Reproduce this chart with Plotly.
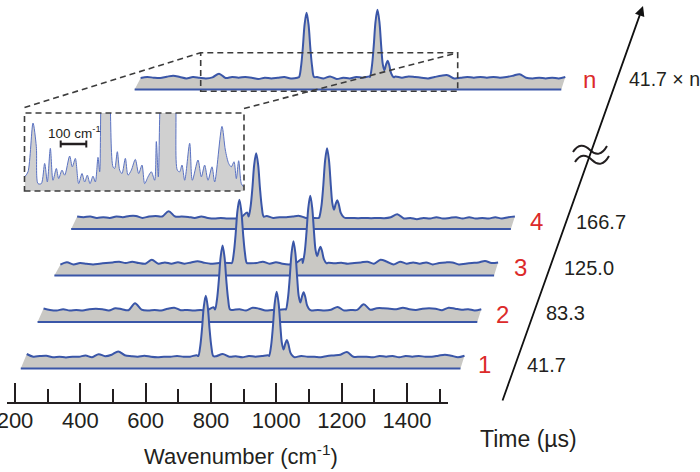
import plotly.graph_objects as go

# ---------------- data ----------------
WAVENUMBER = [236, 256, 276, 296, 316, 336, 356, 376, 396, 416, 436, 456, 476, 496, 516, 536, 556,
              576, 596, 616, 636, 656, 676, 696, 716, 736, 756, 776, 796, 816, 836, 856, 876, 896,
              916, 936, 956, 976, 996, 1016, 1036, 1056, 1076, 1096, 1116, 1136, 1156, 1176, 1196,
              1216, 1236, 1256, 1276, 1296, 1316, 1336, 1356, 1376, 1396, 1416, 1436, 1456, 1476,
              1496, 1516, 1536, 1556, 1576]

# baseline signal of each spectrum (None = inside a band / no data)
NOISE_1 = [2.7, 0, 0.7, 1.0, -0.5, 0, -0.7, 0, 0, 1.2,
           -0.5, 2.5, 0.5, 2, 5.3, 1.5, 0.5, 0, 1, 0,
           -0.5, 0, 0, 0.7, 0, 0, 1.5, None, None, 0.5,
           2.7, 0, 0.5, -0.5, 0.7, 0, 0.7, 1.3, None, None,
           None, -0.5, 0.7, 0, 0, -0.5, 0.7, 1.3, 2, 4.7,
           0, 0, 0, -0.5, 0.7, 0, 0.7, -0.5, 0.7, 0,
           0.7, 0, 0, 1, 2, 1, -0.5, 1]
NOISE_2 = [1.7, 0.3, -0.3, 1, -0.3, 0.3, -0.3, 1, 1.5, 1,
           -0.3, 2, 1, 0, 7, 0.5, -0.3, 0.3, -0.3, 1.5,
           2.5, 0, 0.3, -0.3, 0.3, -0.3, 3, None, None, 0.3,
           1, -0.3, 2.5, 1.5, -0.3, 0.3, 0.3, 1, None, None,
           None, -0.3, 0.3, -0.3, 0.5, 3.3, -0.3, 0.3, 0.3, 6,
           0.5, 2, 2, 1.5, 1, 2.5, 1, 0.3, 1.5, 2,
           1.5, 0, 2.5, 1.5, 0.5, 1, -0.3, 1]
NOISE_3 = [-1, 1.5, -0.7, 0.7, 0, -0.7, 0, 0.7, 1.3, 2,
           0.7, 2, 0.7, 0, 4, 0, 1.3, 0, 1.5, 0,
           1.3, 2.5, 1, 0, 0.5, 1, 0.7, None, None, 0.5,
           0.7, 2, 0, 1.5, 0, -0.7, 0.5, 4.7, None, None,
           None, 1, 0.5, 1, 0, 0.7, 1.3, 2, 0, 4,
           2, -0.7, 2, 0, 1.3, 0, 1.3, -0.7, 0.7, 1.3,
           1.3, -0.7, 0, 0.7, 1.3, 2.7, 0.7, 1.3]
NOISE_4 = [0.7, 0, 0.7, -0.7, 0, -0.7, 0.7, 0, 1.3, 1.3,
           -0.7, 0.7, 1.3, 0.7, 6, 0.7, 0.7, 0.3, -0.7, 0.7,
           -0.7, -1.3, -0.7, -1.3, -1.3, -0.7, 4.7, None, None, 1.3,
           -0.7, 0, 0, 0.7, 1.3, -0.7, -0.7, -0.7, None, None,
           None, -0.7, -0.7, -1, -0.7, -1, -0.7, -1, 0, 3,
           -1.3, -0.7, -2, -0.7, -1.3, 0, -1.3, -0.7, 0, -1.3,
           0, -1.3, -0.7, -1.3, 0, -1.3, 0, 0.7]
NOISE_N = [None, None, -0.3, 0.7, 0, -0.3, 1, 2, 0.7, -0.7,
           0.7, 0, -0.7, 0.3, 4, -0.3, 0.7, 0, 0.7, 0,
           -1.3, 0, -0.7, 0, 0.7, -0.7, 0, None, None, 0.7,
           -0.7, 1.3, -1.3, 0, -0.7, 0.7, 0, 1.3, None, None,
           None, 1.3, 0, 1.3, 0.7, 0, -0.7, 0.7, 2, 2.5,
           -0.7, 0, 0.7, 0, 0.7, 0, 0.7, 0, 0.7, 2,
           3.5, 0, -0.7, 0, -0.7, 0, -0.7, 0.7]

# the two bands (cm-1) and their profiles
PEAK1_WN = 784
PEAK2_WN = 1001
PEAK1_OFFSETS = [-23, -17, -11.5, -6, 0, 6, 11.5, 17, 23]
PEAK1_PROFILE = [0.01, 0.17, 0.46, 0.82, 1, 0.82, 0.46, 0.17, 0.01]
PEAK2_OFFSETS = [-23, -17, -11.5, -6, 0, 6, 11.5, 16, 21, 26, 31, 36, 42, 50]
PEAK2_PROFILE = [0.01, 0.17, 0.46, 0.82, 1, 0.82, 0.46, 0.2, 0.06, 0, 0, 0, 0, 0]
SHOULDER_PROFILE = [0, 0, 0, 0, 0, 0, 0, 0.03, 0.2, 0.75, 1, 0.75, 0.25, 0.02]

SPECTRUM_LABELS = ["1", "2", "3", "4", "n"]
TIME_LABELS = ["41.7", "83.3", "125.0", "166.7", "41.7 × n"]
NOISES = [NOISE_1, NOISE_2, NOISE_3, NOISE_4, NOISE_N]
PEAK1_HEIGHT = [61, 64.7, 64, 64, 65]
PEAK2_HEIGHT = [65, 69, 68, 69, 68]
SHOULDER_HEIGHT = [16.7, 18, 17, 17, 17]

TICK_VALUES = [200, 400, 600, 800, 1000, 1200, 1400]
TICK_LABELS = ["200", "400", "600", "800", "1000", "1200", "1400"]
MINOR_TICKS = [300, 500, 700, 900, 1100, 1300, 1500]

# magnified view (inset)
INSET_WN = [460.5, 472.4, 490.4, 502.3, 508.3, 520.2, 532.2, 541.7, 552.5, 562.0,
            574.0, 582.4, 594.3, 603.9, 621.8, 631.3, 642.1, 654.0, 666.0, 675.5,
            685.1, 694.7, 705.4, 713.8, 723.3, 729.3, 734.1, 749.6, 766.3, 777.1,
            783.1, 792.6, 801.0, 809.3, 821.3, 830.9, 842.8, 857.1, 869.1, 881.0,
            890.6, 902.5, 914.5, 926.4, 932.4, 939.6, 946.7, 974.2, 1001.7, 1007.7,
            1016.0, 1024.4, 1034.0, 1051.9, 1061.4, 1081.7, 1093.7, 1105.6, 1117.6, 1131.9,
            1141.5, 1167.7, 1179.7, 1191.7, 1201.2, 1210.8, 1219.1, 1227.5, 1237.0, 1245.4]
INSET_INT = [18.1, 24.6, 87.1, 56.9, 9.5, 9.5, 35.3, 11.6, 54.7, 13.8,
             28.9, 15.9, 26.7, 20.3, 44.8, 31.0, 41.8, 9.5, 22.4, 11.6,
             20.3, 9.5, 19.0, 11.6, 43.1, 24.6, 120, 250, 120, 31.0,
             28.9, 50.4, 26.7, 22.4, 41.8, 20.3, 26.7, 40.5, 22.4, 33.2,
             9.5, 18.1, 24.6, 13.8, 63.4, 18.1, 120, 250, 120, 26.7,
             24.6, 33.2, 13.8, 61.2, 13.8, 39.7, 18.1, 33.2, 13.8, 31.0,
             11.6, 82.8, 52.6, 35.3, 31.0, 37.5, 15.9, 38.8, 9.5, 5.2]

# ---------------- layout / styles ----------------
W, H = 700, 472
PX_PER_CM = 0.326667           # bottom-axis scale
AXIS_X0_PX = 15                # 200 cm-1 at this pixel
WL = 200 - AXIS_X0_PX / PX_PER_CM
WR = WL + W / PX_PER_CM
STACK_LEVEL = [0, 1, 2, 3, 6]
DX_STEP, DY_STEP = 16.8, 46.5
BASE_Y = H - 356.7
BOTTOM_GAP = 11.8

BLUE = "#3a56a8"
GRAY = "#c9c8c4"
INK = "#231f20"
RED = "#dc2a2a"
DASH = "#3c3c3c"
FONT = "Liberation Sans, Arial, Helvetica, sans-serif"


def w_at(px):
    return 200 + (px - AXIS_X0_PX) / PX_PER_CM


def px_x(px):
    return px / W


def px_y(py):
    return 1 - py / H


def build(noise, h1, h2, hs):
    pts = [(w, v) for w, v in zip(WAVENUMBER, noise) if v is not None]
    pts += [(PEAK1_WN + o, h1 * p) for o, p in zip(PEAK1_OFFSETS, PEAK1_PROFILE)]
    pts += [(PEAK2_WN + o, h2 * p + hs * s)
            for o, p, s in zip(PEAK2_OFFSETS, PEAK2_PROFILE, SHOULDER_PROFILE)]
    pts.sort()
    return [p[0] for p in pts], [p[1] for p in pts]


fig = go.Figure()

# back to front: n, 4, 3, 2, 1
for i in [4, 3, 2, 1, 0]:
    xs, ys = build(NOISES[i], PEAK1_HEIGHT[i], PEAK2_HEIGHT[i], SHOULDER_HEIGHT[i])
    lvl = STACK_LEVEL[i]
    dxw = lvl * DX_STEP / PX_PER_CM
    base = BASE_Y + lvl * DY_STEP
    bottom = base - BOTTOM_GAP
    fig.add_trace(go.Scatter(
        x=[xs[0] + dxw - 6 / PX_PER_CM, xs[-1] + dxw - 4 / PX_PER_CM],
        y=[bottom, bottom], mode="lines",
        line=dict(color=BLUE, width=2), hoverinfo="skip"))
    fig.add_trace(go.Scatter(
        x=[x + dxw for x in xs], y=[base + y for y in ys], mode="lines",
        line=dict(color=BLUE, width=2, shape="spline", smoothing=0.9),
        fill="tonexty", fillcolor=GRAY, hoverinfo="skip"))

# inset
fig.add_trace(go.Scatter(
    x=INSET_WN, y=INSET_INT, mode="lines", xaxis="x3", yaxis="y3",
    line=dict(color="#5a72c2", width=1, shape="spline", smoothing=0.8),
    fill="tozeroy", fillcolor="#d0d0d0", hoverinfo="skip"))

# carrier for the wavenumber axis
fig.add_trace(go.Scatter(x=[800], y=[0.5], mode="markers", marker=dict(opacity=0),
                         xaxis="x2", yaxis="y2", hoverinfo="skip"))

INSET_L, INSET_R, INSET_T, INSET_B = 24.5, 244, 113, 191
SBOX_L, SBOX_R, SBOX_T, SBOX_B = 200.7, 457.7, 52.7, 91.3

shapes = []


def seg(x0, y0, x1, y1, color=DASH, width=1.6, dash="6px,4px"):
    shapes.append(dict(type="line", xref="paper", yref="paper",
                       x0=px_x(x0), y0=px_y(y0), x1=px_x(x1), y1=px_y(y1),
                       line=dict(color=color, width=width, dash=dash)))


def rect(l, t, r, b):
    shapes.append(dict(type="rect", xref="paper", yref="paper",
                       x0=px_x(l), y0=px_y(b), x1=px_x(r), y1=px_y(t),
                       line=dict(color=DASH, width=1.6, dash="6px,4px")))


rect(INSET_L, INSET_T, INSET_R, INSET_B)
rect(SBOX_L, SBOX_T, SBOX_R, SBOX_B)
seg(INSET_L, 107.5, SBOX_L, SBOX_T)
seg(INSET_R, 108.5, SBOX_R, SBOX_T)

# scale bar
seg(60.7, 144, 86.3, 144, color=INK, width=2.5, dash="solid")
seg(60.7, 140.5, 60.7, 147.5, color=INK, width=2, dash="solid")
seg(86.3, 140.5, 86.3, 147.5, color=INK, width=2, dash="solid")


def wave(pts):
    d = "M{},{} C{},{} {},{} {},{} C{},{} {},{} {},{}".format(
        *[v for (px, py) in pts for v in (px_x(px), px_y(py))])
    shapes.append(dict(type="path", xref="paper", yref="paper", path=d,
                       line=dict(color=INK, width=2)))


wave([(573, 152), (578, 144), (584, 144), (590, 150), (596, 156), (602, 155), (607, 146)])
wave([(575, 162), (580, 154), (586, 154), (592, 160), (598, 166), (604, 165), (609, 156)])

annotations = []


def text(s, x, y, size, color=INK, xanchor="center"):
    annotations.append(dict(text=s, xref="paper", yref="paper", x=px_x(x), y=px_y(y),
                            xanchor=xanchor, yanchor="middle", showarrow=False,
                            font=dict(size=size, color=color, family=FONT)))


# time axis arrow
annotations.append(dict(text="", xref="paper", yref="paper", x=px_x(643), y=px_y(6),
                        ax=502 - 643, ay=402 - 6, showarrow=True, arrowhead=2,
                        arrowsize=1.1, arrowwidth=1.8, arrowcolor="#111111"))

LABEL_POS = [(484, 364), (503, 314), (520.5, 267.5), (536.3, 221), (589, 79.5)]
TIME_POS = [(546, 364.7), (565.8, 313.3), (588.8, 267.5), (600.5, 221.7), (663, 79.5)]
for lab, (x, y) in zip(SPECTRUM_LABELS, LABEL_POS):
    text(lab, x, y, 24, color=RED)
for lab, (x, y) in zip(TIME_LABELS[:4], TIME_POS[:4]):
    text(lab, x, y, 20)
text(TIME_LABELS[4], 627, TIME_POS[4][1], 19.5, xanchor="left")

text("Time (µs)", 528, 439, 23)
text("Wavenumber (cm<sup>-1</sup>)", 241, 455, 22)
text("100 cm<sup>-1</sup>", 74, 131.5, 13.5)

fig.update_layout(
    width=W, height=H, autosize=False,
    margin=dict(l=0, r=0, t=0, b=0, pad=0, autoexpand=False),
    paper_bgcolor="white", plot_bgcolor="rgba(0,0,0,0)",
    showlegend=False,
    xaxis=dict(domain=[0, 1], range=[WL, WR], visible=False, fixedrange=True,
               automargin=False),
    yaxis=dict(domain=[0, 1], range=[0, H], visible=False, fixedrange=True,
               automargin=False),
    xaxis2=dict(domain=[7 / W, 448 / W], range=[w_at(7), w_at(448)], anchor="y2",
                automargin=False,
                showline=True, linewidth=2, linecolor=INK, showgrid=False, zeroline=False,
                ticks="inside", ticklen=19, tickwidth=2, tickcolor=INK,
                tickmode="array", tickvals=TICK_VALUES, ticktext=TICK_LABELS,
                tickfont=dict(size=22, color=INK, family=FONT),
                ticklabeloverflow="allow", ticklabelstandoff=-2,
                minor=dict(tickmode="array", tickvals=MINOR_TICKS, ticks="inside",
                           ticklen=13, tickwidth=2, tickcolor=INK, showgrid=False),
                fixedrange=True),
    yaxis2=dict(domain=[1 - 402 / H, 1], range=[0, 1], anchor="x2", visible=False,
                fixedrange=True, automargin=False),
    xaxis3=dict(domain=[INSET_L / W, INSET_R / W], range=[459.9, 1246.6], anchor="y3",
                visible=False, fixedrange=True, automargin=False),
    yaxis3=dict(domain=[1 - INSET_B / H, 1 - INSET_T / H], range=[0, 100], anchor="x3",
                visible=False, fixedrange=True, automargin=False),
    shapes=shapes,
    annotations=annotations,
)

fig.write_html("out.html", config={"displayModeBar": False},
               post_script="document.body.style.margin='0';document.body.style.padding='0';")
